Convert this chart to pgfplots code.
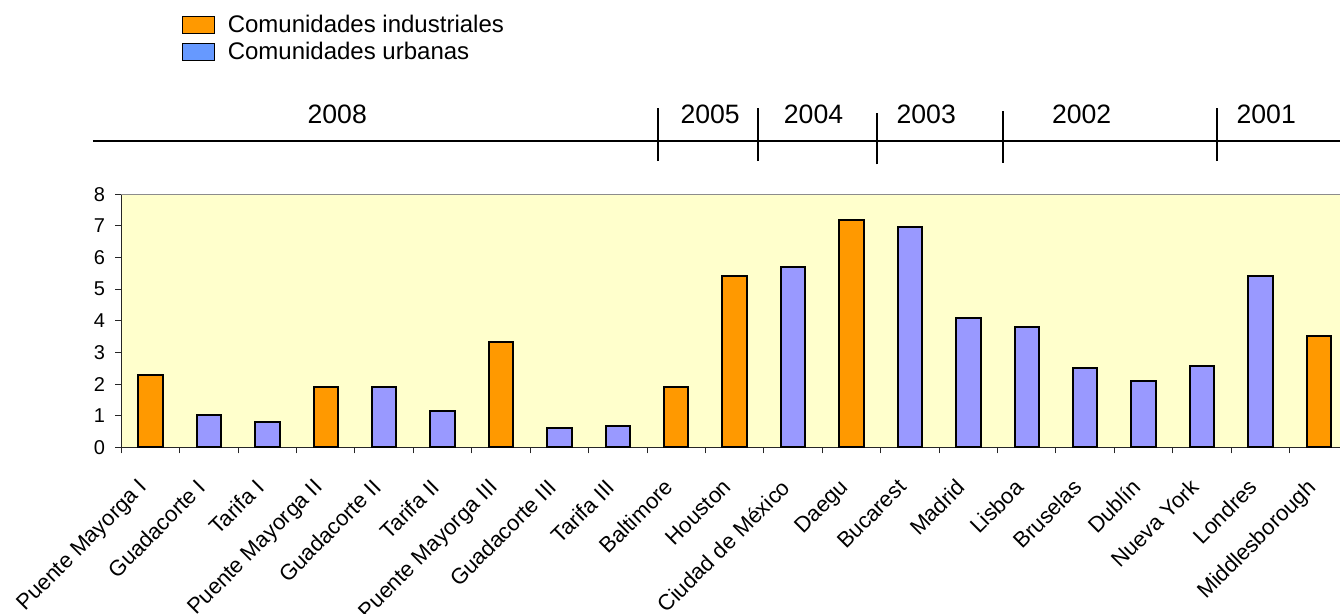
\documentclass[border=0pt]{standalone}
\usepackage{fontspec}
\setmainfont{Liberation Sans}
\usepackage{pgfplots}
\pgfplotsset{compat=1.18}
\definecolor{indorange}{HTML}{FF9900}
\definecolor{urbblue}{HTML}{9999FF}
\definecolor{legblue}{HTML}{6699FF}
\definecolor{bgyellow}{HTML}{FFFFCC}
\definecolor{bordergray}{HTML}{8C8C8C}
\pgfplotsset{boxlegend/.style={legend image code/.code={\draw[##1] (0pt,-4.2pt) rectangle (16pt,4.2pt);}}}
\begin{document}
\begin{tikzpicture}
\begin{axis}[
  at={(0pt,0pt)}, anchor=south west,
  scale only axis, width=613.35pt, height=126.5pt,
  xmin=-0.5, xmax=20.5, ymin=0, ymax=8,
  clip=false,
  ybar, bar width=12.2pt,
  axis background/.style={fill=bgyellow},
  axis x line*=bottom, axis y line*=left,
  axis line style={line width=0.6pt, black!85},
  ytick={0,...,8},
  xtick={0,...,20},
  xticklabels={Puente Mayorga I, Guadacorte I, Tarifa I, Puente Mayorga II, Guadacorte II, Tarifa II, Puente Mayorga III, Guadacorte III, Tarifa III, Baltimore, Houston, Ciudad de México, Daegu, Bucarest, Madrid, Lisboa, Bruselas, Dublín, Nueva York, Londres, Middlesborough},
  minor xtick={-0.5,0.5,...,20.5},
  major x tick style={draw=none},
  minor x tick style={line width=0.5pt, black!85},
  major y tick style={line width=0.5pt, black!85},
  tick align=outside,
  major tick length=3pt, minor tick length=3pt,
  /pgf/number format/assume math mode=true,
  yticklabel style={font=\fontsize{10}{11}\selectfont, anchor=east, inner sep=0pt, xshift=-5pt},
  xticklabel style={font=\fontsize{11}{13}\selectfont, anchor=north east, inner sep=0pt},
  x tick label style={yshift=-12pt, xshift=-6.5pt, rotate=45},
  legend style={at={(0.0445,1.740)}, anchor=north west, draw=none, fill=none,
    font=\fontsize{12}{14}\selectfont,
    nodes={text height=9pt, text depth=2pt, inner sep=1.25pt},
    /tikz/every odd column/.append style={column sep=5pt}},
  legend cell align=left,
]
\addlegendimage{boxlegend, fill=indorange, draw=black, line width=0.5pt}
\addlegendentry{Comunidades industriales}
\addlegendimage{boxlegend, fill=legblue, draw=black, line width=0.5pt}
\addlegendentry{Comunidades urbanas}
\addplot[forget plot, bar shift=0pt, fill=indorange, draw=black, line width=1pt]
  coordinates {(0,2.30) (3,1.90) (6,3.32) (9,1.90) (10,5.42) (12,7.19) (20,3.53)};
\addplot[forget plot, bar shift=0pt, fill=urbblue, draw=black, line width=1pt]
  coordinates {(1,1.01) (2,0.80) (4,1.90) (5,1.16) (7,0.60) (8,0.66) (11,5.70) (13,6.98) (14,4.08) (15,3.80) (16,2.50) (17,2.10) (18,2.57) (19,5.42)};
% plot-area border (top and right), grey
\draw[bordergray, line width=0.8pt] (rel axis cs:0,1) -- (rel axis cs:1,1) -- (rel axis cs:1,0);
% year bands
\draw[line width=0.9pt] (axis cs:-0.985,9.695) -- (axis cs:21,9.695);
\draw[line width=0.9pt] (axis cs:8.69,9.05) -- (axis cs:8.69,10.73);
\draw[line width=0.9pt] (axis cs:10.40,9.05) -- (axis cs:10.40,10.73);
\draw[line width=0.9pt] (axis cs:12.44,8.95) -- (axis cs:12.44,10.57);
\draw[line width=0.9pt] (axis cs:14.60,9.0) -- (axis cs:14.60,10.62);
\draw[line width=0.9pt] (axis cs:18.26,9.05) -- (axis cs:18.26,10.73);
\node[font=\fontsize{13.3}{15}\selectfont] at (axis cs:3.197,10.52) {2008};
\node[font=\fontsize{13.3}{15}\selectfont] at (axis cs:9.58,10.52) {2005};
\node[font=\fontsize{13.3}{15}\selectfont] at (axis cs:11.35,10.52) {2004};
\node[font=\fontsize{13.3}{15}\selectfont] at (axis cs:13.28,10.52) {2003};
\node[font=\fontsize{13.3}{15}\selectfont] at (axis cs:15.94,10.52) {2002};
\node[font=\fontsize{13.3}{15}\selectfont] at (axis cs:19.10,10.52) {2001};
\end{axis}
\pgfresetboundingbox
\useasboundingbox (-60.65pt,-83.35pt) rectangle (609.35pt,223.65pt);
\end{tikzpicture}
\end{document}
